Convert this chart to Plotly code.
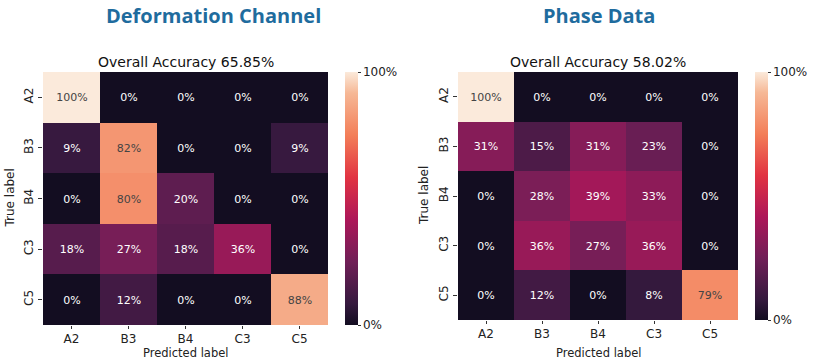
import plotly.graph_objects as go

labels = ["A2", "B3", "B4", "C3", "C5"]
deform = [
    [100, 0, 0, 0, 0],
    [9, 82, 0, 0, 9],
    [0, 80, 20, 0, 0],
    [18, 27, 18, 36, 0],
    [0, 12, 0, 0, 88],
]
phase = [
    [100, 0, 0, 0, 0],
    [31, 15, 31, 23, 0],
    [0, 28, 39, 33, 0],
    [0, 36, 27, 36, 0],
    [0, 12, 0, 8, 79],
]
main_titles = ["Deformation Channel", "Phase Data"]
sub_titles = ["Overall Accuracy 65.85%", "Overall Accuracy 58.02%"]

rocket = [
    [0.0, "#130d21"], [0.083, "#35193e"], [0.25, "#701f57"], [0.417, "#ad1759"],
    [0.583, "#e13342"], [0.75, "#f37e58"], [0.917, "#f6b896"], [1.0, "#fbeadb"],
]

W, H = 813, 359
FONT = "DejaVu Sans"

def px(x):
    return x / W

def py(y):
    return 1 - y / H

# pixel boxes: (left, right, top, bottom), colorbar left
boxes = [(43, 328, 72, 325, 345), (458, 738, 72, 320, 755)]

fig = go.Figure()
for i, (z, box) in enumerate(zip([deform, phase], boxes)):
    l, r, t, b, cbx = box
    xa = "x" if i == 0 else "x2"
    ya = "y" if i == 0 else "y2"
    fig.add_trace(go.Heatmap(
        z=z, x=labels, y=labels, xaxis=xa, yaxis=ya,
        colorscale=rocket, zmin=0, zmax=100,
        texttemplate="%{z}%", textfont=dict(family=FONT, size=11),
        hoverinfo="skip",
        colorbar=dict(
            x=px(cbx), xanchor="left", xref="paper",
            y=py((t + b) / 2), yanchor="middle",
            len=b - t, lenmode="pixels", thickness=13, xpad=0, ypad=0,
            outlinewidth=0, tickvals=[0, 100], ticktext=["0%", "100%"],
            ticks="outside", ticklen=3, tickcolor="#333",
            tickfont=dict(family=FONT, size=12, color="#222"),
        ),
    ))
    axx = dict(domain=[px(l), px(r)], anchor=ya, ticks="outside", ticklen=3,
               tickcolor="#333", showgrid=False, zeroline=False, automargin=False,
               tickfont=dict(family=FONT, size=12, color="#222"))
    axy = dict(domain=[py(b), py(t)], anchor=xa, ticks="outside", ticklen=4,
               tickcolor="#333", showgrid=False, zeroline=False, autorange="reversed",
               automargin=False,
               tickangle=-90, tickfont=dict(family=FONT, size=12, color="#222"))
    if i == 0:
        fig.update_layout(xaxis=axx, yaxis=axy)
    else:
        fig.update_layout(xaxis2=axx, yaxis2=axy)
    cx = (l + r) / 2
    ann = dict(xref="paper", yref="paper", showarrow=False, xanchor="center", yanchor="middle")
    fig.add_annotation(text=sub_titles[i], x=px(cx), y=py(62),
                       font=dict(family=FONT, size=14, color="#111"), **ann)
    fig.add_annotation(text="<b>" + main_titles[i] + "</b>", x=px(213 if i == 0 else 599), y=py(16),
                       font=dict(family="Open Sans", size=20, color="#1f6c9e"), **ann)
    fig.add_annotation(text="Predicted label", x=px(cx), y=py(353),
                       font=dict(family=FONT, size=11.5, color="#222"), **ann)
    fig.add_annotation(text="True label", x=px(l - 34), y=py((t + b) / 2), textangle=-90,
                       font=dict(family=FONT, size=12, color="#222"), **ann)

fig.update_layout(width=W, height=H, margin=dict(l=0, r=0, t=0, b=0, pad=0),
                  paper_bgcolor="white", plot_bgcolor="white", showlegend=False)
fig.write_html("out.html", config={"displayModeBar": False},
               post_script="document.body.style.margin='0';document.body.style.overflow='hidden';")
